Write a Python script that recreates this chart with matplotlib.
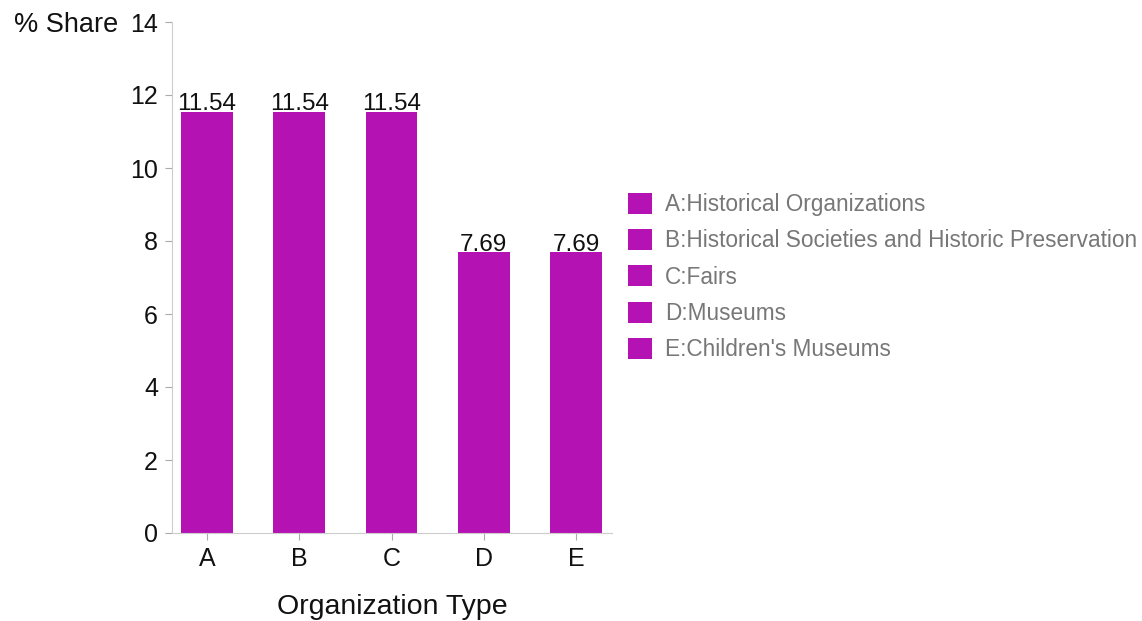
import matplotlib
matplotlib.use("Agg")
import matplotlib.pyplot as plt
from matplotlib.patches import Patch

plt.rcParams['font.family'] = ['Liberation Sans', 'DejaVu Sans']

categories = ["A", "B", "C", "D", "E"]
values = [11.54, 11.54, 11.54, 7.69, 7.69]
legend_labels = ["A:Historical Organizations",
                 "B:Historical Societies and Historic Preservation",
                 "C:Fairs", "D:Museums", "E:Children's Museums"]
yticks = [0, 2, 4, 6, 8, 10, 12, 14]

bar_color = "#B512B4"
W, H = 1142, 621
fig = plt.figure(figsize=(W / 100, H / 100), dpi=100)
ax = fig.add_axes([172 / W, 1 - 533 / H, (612 - 172) / W, (533 - 22) / H])

x = list(range(len(categories)))
bars = ax.bar(x, values, width=0.56, color=bar_color)
for xi, v in zip(x, values):
    ax.text(xi, v - 0.1, f"{v:.2f}", ha="center", va="bottom", fontsize=17.5, color="#111111")

ax.set_xlim(-0.38, 4.39)
ax.set_ylim(0, 14)
ax.set_yticks(yticks)
ax.set_xticks(x)
ax.set_xticklabels(categories)
for s in ["top", "right"]:
    ax.spines[s].set_visible(False)
for s in ["left", "bottom"]:
    ax.spines[s].set_color("#cccccc")
ax.tick_params(axis="both", colors="#aaaaaa", labelcolor="#111111", labelsize=18, length=5, pad=5)
ax.set_xlabel("Organization Type", fontsize=20.5, color="#111111", labelpad=17)
fig.text(118 / W, 1 - 25 / H, "% Share", ha="right", va="center", fontsize=19.5, color="#111111")

handles = [Patch(facecolor=bar_color, edgecolor="none") for _ in legend_labels]
fig.legend(handles, legend_labels, loc="center left", bbox_to_anchor=(628 / W, 1 - 277 / H),
           frameon=False, fontsize=16.3, labelcolor="#777777", handlelength=1.05, handleheight=1.05,
           handletextpad=0.6, labelspacing=0.58, borderpad=0, borderaxespad=0)

fig.savefig("out.png", dpi=100)
